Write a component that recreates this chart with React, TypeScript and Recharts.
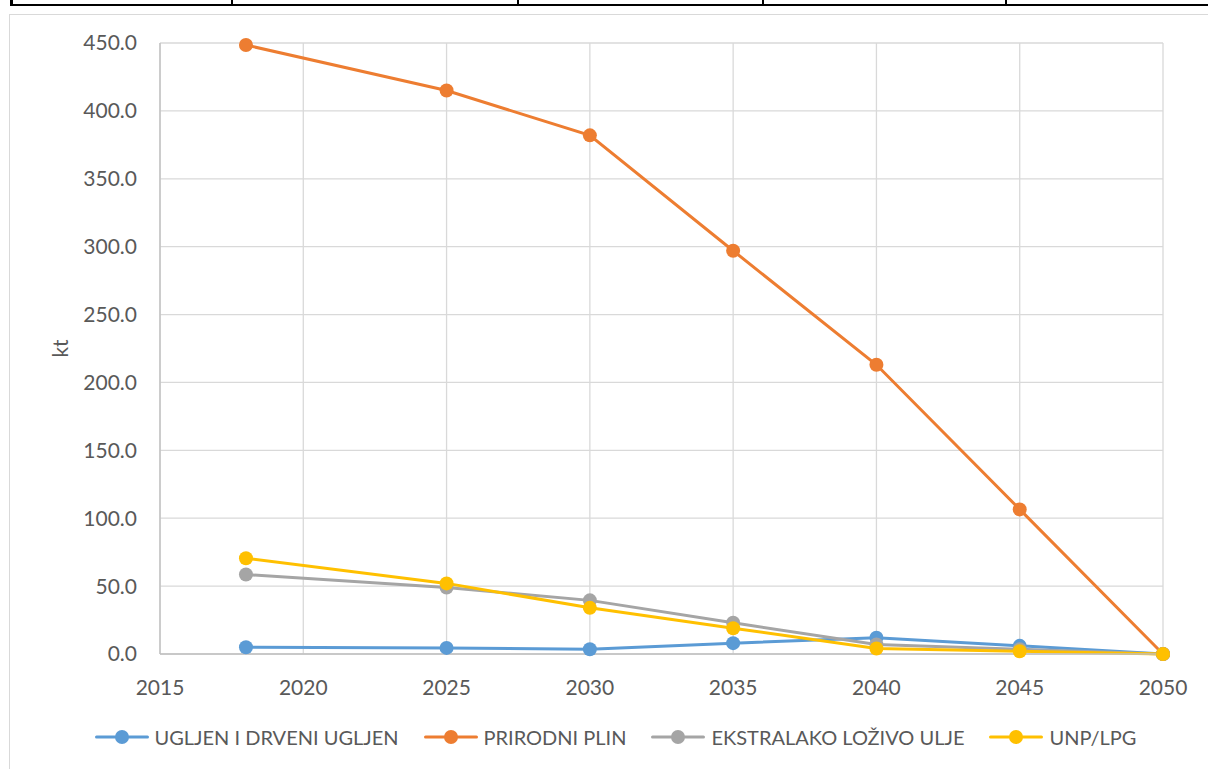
import React from 'react';
import { LineChart, Line, XAxis, YAxis, CartesianGrid, Legend } from 'recharts';

const years = [2018, 2025, 2030, 2035, 2040, 2045, 2050];
const ugljen = [5.0, 4.5, 3.5, 8.0, 12.0, 6.0, 0.0];
const prirodniPlin = [448.5, 415.0, 382.0, 297.0, 213.0, 106.5, 0.0];
const ekstralako = [58.5, 49.0, 39.5, 23.0, 7.0, 3.5, 0.0];
const unpLpg = [70.5, 52.0, 34.0, 19.0, 4.0, 2.0, 0.0];

const xTicks = [2015, 2020, 2025, 2030, 2035, 2040, 2045, 2050];
const yTicks = [0, 50, 100, 150, 200, 250, 300, 350, 400, 450];

const series = [
  { key: 'ugljen', name: 'UGLJEN I DRVENI UGLJEN', color: '#5B9BD5' },
  { key: 'plin', name: 'PRIRODNI PLIN', color: '#ED7D31' },
  { key: 'ekstra', name: 'EKSTRALAKO LOŽIVO ULJE', color: '#A5A5A5' },
  { key: 'unp', name: 'UNP/LPG', color: '#FFC000' },
];

const data = years.map((year, i) => ({
  year,
  ugljen: ugljen[i],
  plin: prirodniPlin[i],
  ekstra: ekstralako[i],
  unp: unpLpg[i],
}));

const FONT = 'Lato, sans-serif';
const TEXT = '#595959';

const YLabel = (props: any) => {
  const { viewBox } = props;
  const x = viewBox.x + 50;
  const y = viewBox.y + viewBox.height / 2;
  return (
    <text
      x={x}
      y={y}
      transform={`rotate(-90 ${x} ${y})`}
      textAnchor="middle"
      dominantBaseline="central"
      fill={TEXT}
      fontSize={21}
      fontFamily={FONT}
    >
      kt
    </text>
  );
};

const LegendContent = () => (
  <div style={{ display: 'flex', justifyContent: 'center', alignItems: 'center', height: 36, paddingLeft: 59 }}>
    {series.map((s, i) => (
      <div key={s.key} style={{ display: 'flex', alignItems: 'center', marginRight: i < series.length - 1 ? 25 : 0 }}>
        <svg width={54} height={16}>
          <line x1={1.5} y1={8} x2={52.5} y2={8} stroke={s.color} strokeWidth={3} strokeLinecap="round" />
          <circle cx={27} cy={8} r={7} fill={s.color} />
        </svg>
        <span style={{ marginLeft: 6, color: TEXT, fontSize: 20, fontFamily: FONT }}>{s.name}</span>
      </div>
    ))}
  </div>
);

export default function App() {
  return (
    <div style={{ position: 'fixed', left: 0, top: 0, width: 1208, height: 769, background: '#fff', overflow: 'hidden' }}>
      {/* table border left over above the chart */}
      <div style={{ position: 'absolute', left: 10, top: 0, width: 1198, height: 4, borderBottom: '2.5px solid #000' }} />
      <div style={{ position: 'absolute', left: 10, top: 0, width: 2.5, height: 6, background: '#000' }} />
      {[231, 517, 762, 1005].map((x) => (
        <div key={x} style={{ position: 'absolute', left: x, top: 0, width: 1.5, height: 6, background: '#000' }} />
      ))}
      <div
        style={{
          position: 'absolute',
          left: 9,
          top: 14,
          width: 1210,
          height: 770,
          border: '1.5px solid #D9D9D9',
          boxSizing: 'border-box',
        }}
      />
      <div style={{ position: 'absolute', left: 9, top: 14 }}>
        <LineChart width={1199} height={755} data={data} margin={{ top: 29, right: 45, left: 0, bottom: 14 }}>
          <CartesianGrid stroke="#D9D9D9" strokeWidth={1.3} />
          <XAxis
            dataKey="year"
            type="number"
            domain={[2015, 2050]}
            ticks={xTicks}
            interval={0}
            height={65}
            tickSize={0}
            tickMargin={26}
            axisLine={{ stroke: '#BFBFBF', strokeWidth: 1.3 }}
            tick={{ fill: TEXT, fontSize: 21, fontFamily: FONT }}
          />
          <YAxis
            type="number"
            domain={[0, 450]}
            ticks={yTicks}
            interval={0}
            width={151}
            tickSize={0}
            tickMargin={23}
            tickFormatter={(v: number) => v.toFixed(1)}
            axisLine={{ stroke: '#BFBFBF', strokeWidth: 1.3 }}
            tick={{ fill: TEXT, fontSize: 21, fontFamily: FONT }}
            label={<YLabel />}
          />
          <Legend verticalAlign="bottom" height={36} content={<LegendContent />} />
          {series.map((s) => (
            <Line
              key={s.key}
              dataKey={s.key}
              name={s.name}
              type="linear"
              stroke={s.color}
              strokeWidth={3}
              dot={{ r: 7, fill: s.color, stroke: 'none' }}
              isAnimationActive={false}
            />
          ))}
        </LineChart>
      </div>
    </div>
  );
}
